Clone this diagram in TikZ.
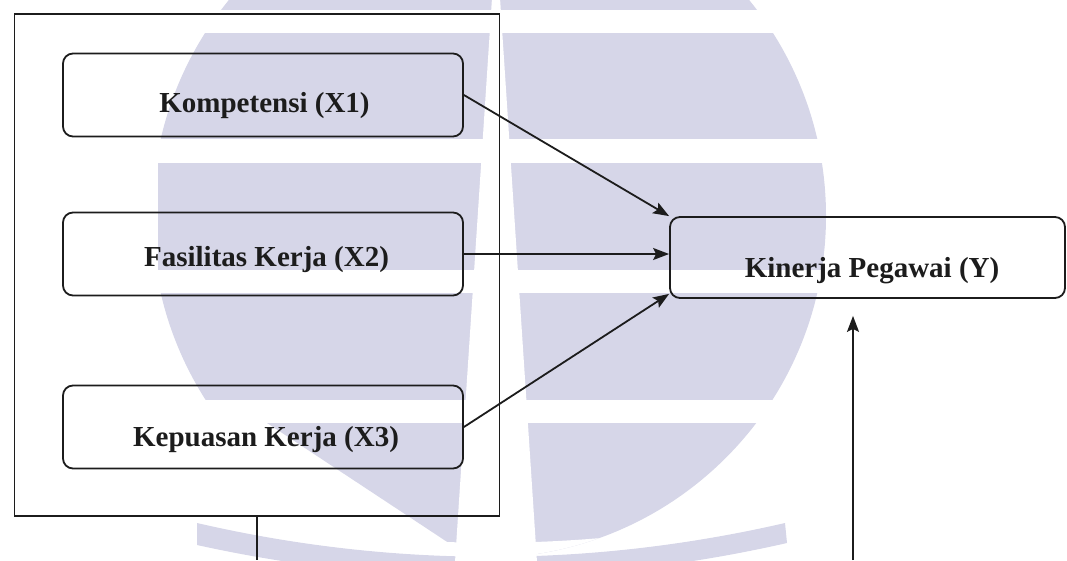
\documentclass[tikz,border=0pt]{standalone}
\usepackage{fontspec}
\setmainfont{Liberation Serif}
\usetikzlibrary{arrows.meta}
\definecolor{wmlav}{RGB}{214,214,232}
\definecolor{ink}{RGB}{28,28,28}
\begin{document}
\begin{tikzpicture}[x=1pt,y=-1pt,
  var/.style={draw=ink, line width=1.8pt, rounded corners=10pt,
    minimum width=400pt, minimum height=83pt, inner sep=0pt},
  lbl/.style={font=\bfseries\fontsize{29}{34}\selectfont, text=ink, inner sep=0pt},
  frame/.style={draw=ink, line width=1.6pt, inner sep=0pt,
    minimum width=485pt, minimum height=502pt},
  link/.style={draw=ink, line width=1.8pt,
    -{Stealth[length=16pt,width=12pt,inset=3pt]}},
  wire/.style={draw=ink, line width=1.8pt},
  wm/.style={fill=wmlav}]
\useasboundingbox (0,0) rectangle (1067,560);

% faint logo in the background
\begin{scope}
  \clip (0,0) rectangle (1067,560);
  \begin{scope}
    \clip (484,216) circle [radius=342pt];
    \clip (494,216) circle [radius=342pt];
    \fill[wm] (158,-5) rectangle (900,10);
    \fill[wm] (158,33) rectangle (900,139);
    \fill[wm] (158,163) rectangle (900,270);
    \fill[wm] (158,293) rectangle (900,400);
    \fill[wm] (267,423) -- (470,423) -- (470,557) -- cycle;
    \fill[wm] (520,423) rectangle (900,620);
    \fill[white] (100,509) -- (197,509) .. controls (392,554) and (589,554) .. (785,509)
      -- (900,509) -- (900,620) -- (100,620) -- cycle;
  \end{scope}
  \fill[wm] (197,523) .. controls (392,568) and (589,568) .. (785,523)
    -- (787,543) .. controls (589,588) and (392,588) .. (197,545) -- cycle;
  \fill[white] (492,-2) -- (500,-2) -- (537,562) -- (455,562) -- cycle;
\end{scope}

% outer frame around the independent variables
\node[frame] (frame) at (257,265) {};

% variable boxes
\node[var] (x1) at (263,95) {};
\node[var] (x2) at (263,254) {};
\node[var] (x3) at (263,427) {};
\node[var, minimum width=395pt, minimum height=81pt] (y) at (867.5,257.5) {};

\node[lbl] (t1) at ([shift={(1.5,11)}]x1.center) {Kompetensi (X1)};
\node[lbl] (t2) at ([shift={(3.5,6)}]x2.center) {Fasilitas Kerja (X2)};
\node[lbl] (t3) at ([shift={(3,13)}]x3.center) {Kepuasan Kerja (X3)};
\node[lbl] (ty) at ([shift={(4.5,13.5)}]y.center) {Kinerja Pegawai (Y)};

% arrows into the dependent variable
\draw[link] (x1.east) -- (y.north west);
\draw[link] (x2.east) -- (x2.east -| y.west);
\draw[link] (x3.east) -- ([yshift=5pt]y.south west);

% joint path leaving the frame and returning from below
\coordinate (drop) at (257,560);
\coordinate (rise) at (853,560);
\draw[wire] (frame.south) -- (drop);
\draw[link] (rise) -- ([yshift=-17pt]rise |- y.south);
\end{tikzpicture}
\end{document}
